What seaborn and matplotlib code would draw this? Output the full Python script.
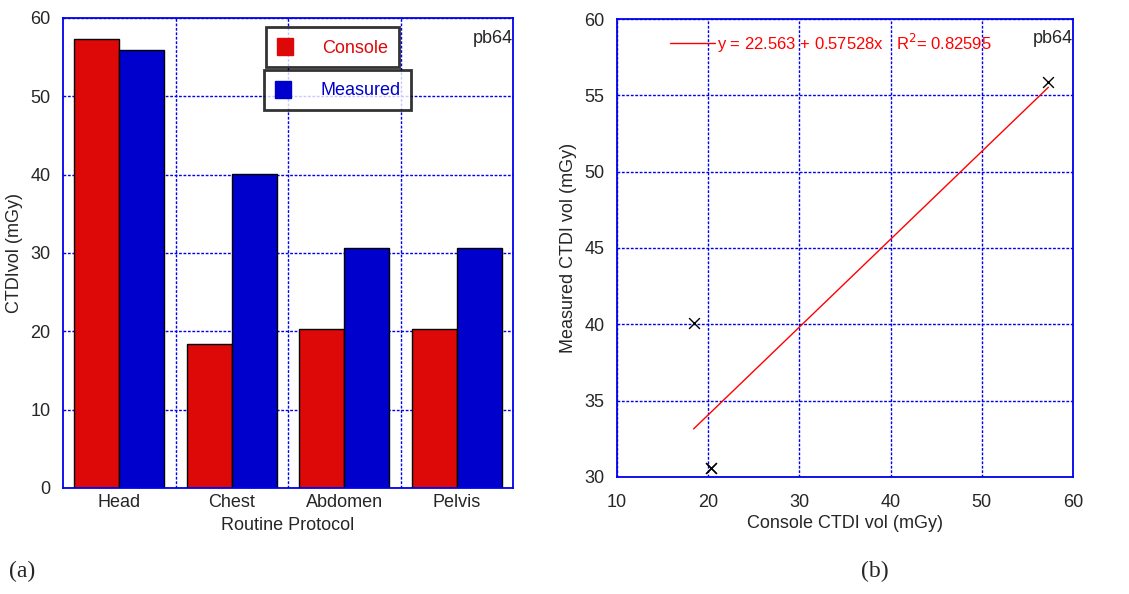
import numpy as np
import pandas as pd
import matplotlib
matplotlib.use('Agg')
import matplotlib.pyplot as plt
import seaborn as sns
from matplotlib.patches import Patch

sns.set_style('white')
plt.rcParams['font.family'] = ['Liberation Sans', 'DejaVu Sans']

# data
protocols = ['Head', 'Chest', 'Abdomen', 'Pelvis']
console = [57.3, 18.4, 20.3, 20.3]
measured = [55.9, 40.1, 30.6, 30.6]
intercept, slope, r2 = 22.563, 0.57528, 0.82595

RED = '#dd0808'
BLUE = '#0000cc'
GRID = '#0000ee'
FS = 13

bars = pd.DataFrame({
    'protocol': protocols * 2,
    'ctdi': console + measured,
    'series': ['Console'] * 4 + ['Measured'] * 4,
})
pts = pd.DataFrame({'console': console, 'measured': measured})

fig = plt.figure(figsize=(11.29, 5.94), dpi=100)
ax1 = fig.add_axes([0.0558, 0.1785, 0.3986, 0.7912])
ax2 = fig.add_axes([0.5465, 0.197, 0.4039, 0.771])

grid_kw = dict(color=GRID, linestyle=(0, (2, 1.2)), linewidth=1.0)


def style_axes(ax):
    for s in ax.spines.values():
        s.set_color(GRID)
        s.set_linewidth(1.3)
    ax.tick_params(labelsize=FS, length=0)
    ax.tick_params(axis='y', pad=9)
    ax.set_axisbelow(True)


# (a) bar chart
sns.barplot(data=bars, x='protocol', y='ctdi', hue='series', ax=ax1,
            palette=[RED, BLUE], saturation=1, width=0.8, edgecolor='black',
            linewidth=1, legend=False)
ax1.set_xlim(-0.5, 3.5)
ax1.set_ylim(0, 60)
ax1.set_yticks(range(0, 61, 10))
for xv in [0.5, 1.5, 2.5]:
    ax1.axvline(xv, **grid_kw, zorder=0)
ax1.yaxis.grid(True, **grid_kw)
style_axes(ax1)
ax1.tick_params(axis='x', pad=4)
ax1.set_xlabel('Routine Protocol', fontsize=FS, labelpad=5)
ax1.set_ylabel('CTDIvol (mGy)', fontsize=FS, labelpad=5)
ax1.text(1.0, 0.975, 'pb64', transform=ax1.transAxes, ha='right', va='top', fontsize=FS)

leg_kw = dict(frameon=True, fancybox=False, fontsize=FS, handlelength=0.9,
              handleheight=1.1, handletextpad=1.6, borderpad=0.6, borderaxespad=0)
l1 = ax1.legend(handles=[Patch(facecolor=RED, edgecolor=RED)], labels=['Console'],
                loc='upper left', bbox_to_anchor=(0.452, 0.981), labelcolor=RED, **leg_kw)
l2 = ax1.legend(handles=[Patch(facecolor=BLUE, edgecolor=BLUE)], labels=['Measured'],
                loc='upper left', bbox_to_anchor=(0.447, 0.89), labelcolor=BLUE, **leg_kw)
for lg in (l1, l2):
    lg.get_frame().set_edgecolor('black')
    lg.get_frame().set_linewidth(2)
ax1.add_artist(l1)

# (b) correlation plot
xfit = np.array([min(console), max(console)])
sns.lineplot(x=xfit, y=intercept + slope * xfit, ax=ax2, color='red', linewidth=1)
sns.scatterplot(data=pts, x='console', y='measured', ax=ax2, marker='x',
                color='black', s=60, linewidth=1)
ax2.set_xlim(10, 60)
ax2.set_ylim(30, 60)
ax2.set_xticks(range(10, 61, 10))
ax2.set_yticks(range(30, 61, 5))
ax2.grid(True, **grid_kw)
style_axes(ax2)
ax2.tick_params(axis='x', pad=12)
ax2.set_xlabel('Console CTDI vol (mGy)', fontsize=FS, labelpad=3)
ax2.set_ylabel('Measured CTDI vol (mGy)', fontsize=FS, labelpad=5)
ax2.text(1.0, 0.975, 'pb64', transform=ax2.transAxes, ha='right', va='top', fontsize=FS)
ax2.plot([15.8, 20.7], [58.4, 58.4], color='red', linewidth=1)
ax2.text(21.0, 58.4, f'y = {intercept} + {slope}x   R$^2$= {r2}', color='red',
         fontsize=12, va='center', ha='left')

fig.text(0.008, 0.028, '(a)', fontsize=17, family='Liberation Serif')
fig.text(0.763, 0.028, '(b)', fontsize=17, family='Liberation Serif')

fig.savefig('out.png', dpi=100)
